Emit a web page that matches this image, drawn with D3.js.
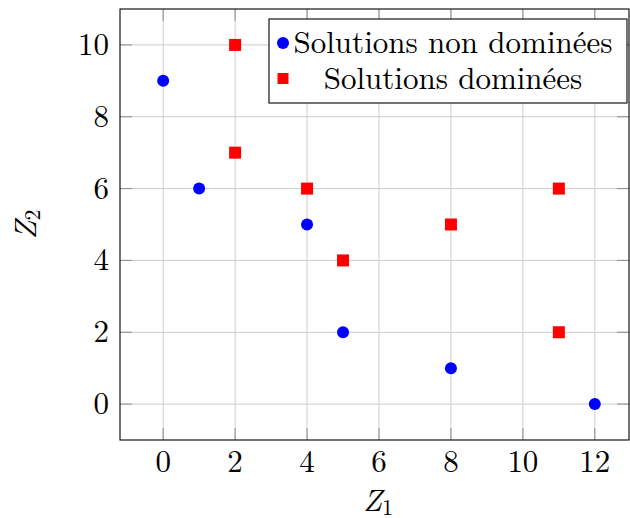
<!DOCTYPE html>
<html>
<head>
<meta charset="utf-8">
<script src="https://cdn.jsdelivr.net/npm/d3@7"></script>
<style>
  html, body { margin: 0; padding: 0; background: #fff; }
  svg { display: block; }
</style>
</head>
<body>
<svg id="chart" width="630" height="518"></svg>
<script>
// Points of the bi-objective problem (Z1, Z2)
const nonDominatedZ1 = [0, 1, 4, 5, 8, 12];
const nonDominatedZ2 = [9, 6, 5, 2, 1, 0];
const dominatedZ1 = [2, 2, 4, 5, 8, 11, 11];
const dominatedZ2 = [10, 7, 6, 4, 5, 6, 2];

const xTicks = [0, 2, 4, 6, 8, 10, 12];
const yTicks = [0, 2, 4, 6, 8, 10];
const legendLabels = ["Solutions non dominées", "Solutions dominées"];

const FONT = "'Latin Modern Roman', 'Liberation Serif', serif";
const svg = d3.select("#chart");
const box = { left: 120, right: 629, top: 9, bottom: 440 };

const x = d3.scaleLinear().domain([-1.2, 12.95]).range([box.left, box.right]);
const y = d3.scaleLinear().domain([-1, 11]).range([box.bottom, box.top]);

const gridColor = "#cccccc";
const tickColor = "#8c8c8c";
const tickLen = 12;

// grid lines
const grid = svg.append("g");
grid.selectAll("line.gx").data(xTicks).join("line")
  .attr("x1", d => x(d)).attr("x2", d => x(d))
  .attr("y1", box.top).attr("y2", box.bottom)
  .attr("stroke", gridColor).attr("stroke-width", 1);
grid.selectAll("line.gy").data(yTicks).join("line")
  .attr("x1", box.left).attr("x2", box.right)
  .attr("y1", d => y(d)).attr("y2", d => y(d))
  .attr("stroke", gridColor).attr("stroke-width", 1);

// inward ticks on all four sides
const ticks = svg.append("g").attr("stroke", tickColor).attr("stroke-width", 1);
xTicks.forEach(d => {
  ticks.append("line").attr("x1", x(d)).attr("x2", x(d)).attr("y1", box.bottom).attr("y2", box.bottom - tickLen);
  ticks.append("line").attr("x1", x(d)).attr("x2", x(d)).attr("y1", box.top).attr("y2", box.top + tickLen);
});
yTicks.forEach(d => {
  ticks.append("line").attr("x1", box.left).attr("x2", box.left + tickLen).attr("y1", y(d)).attr("y2", y(d));
  ticks.append("line").attr("x1", box.right).attr("x2", box.right - tickLen).attr("y1", y(d)).attr("y2", y(d));
});

// axis frame
svg.append("rect")
  .attr("x", box.left).attr("y", box.top)
  .attr("width", box.right - box.left).attr("height", box.bottom - box.top)
  .attr("fill", "none").attr("stroke", "#000").attr("stroke-width", 1.1);

// tick labels
const fs = 31;
svg.append("g").selectAll("text").data(xTicks).join("text")
  .attr("font-family", FONT)
  .attr("x", d => x(d)).attr("y", 472)
  .attr("text-anchor", "middle").attr("font-size", fs)
  .text(d => d);
svg.append("g").selectAll("text").data(yTicks).join("text")
  .attr("font-family", FONT)
  .attr("x", 109).attr("y", d => y(d) + 10)
  .attr("text-anchor", "end").attr("font-size", fs)
  .text(d => d);

// axis titles
const xt = svg.append("text").attr("font-family", FONT)
  .attr("x", 378).attr("y", 511)
  .attr("text-anchor", "middle").attr("font-size", fs);
xt.append("tspan").attr("font-style", "italic").text("Z");
xt.append("tspan").attr("font-size", 22).attr("dy", 4).text("1");

const yt = svg.append("text").attr("font-family", FONT)
  .attr("transform", `translate(36, ${(box.top + box.bottom) / 2}) rotate(-90)`)
  .attr("text-anchor", "middle").attr("font-size", fs);
yt.append("tspan").attr("font-style", "italic").text("Z");
yt.append("tspan").attr("font-size", 22).attr("dy", 4).text("2");

// data marks
const nd = nonDominatedZ1.map((v, i) => ({ z1: v, z2: nonDominatedZ2[i] }));
const dm = dominatedZ1.map((v, i) => ({ z1: v, z2: dominatedZ2[i] }));
const r = 6, sq = 12;

svg.append("g").selectAll("circle").data(nd).join("circle")
  .attr("cx", d => x(d.z1)).attr("cy", d => y(d.z2)).attr("r", r)
  .attr("fill", "#0000ff");
svg.append("g").selectAll("rect").data(dm).join("rect")
  .attr("x", d => x(d.z1) - sq / 2).attr("y", d => y(d.z2) - sq / 2)
  .attr("width", sq).attr("height", sq)
  .attr("fill", "#ff0000");

// legend
const lg = { x: 269, y: 19, w: 358, h: 84 };
const L = svg.append("g");
L.append("rect").attr("x", lg.x).attr("y", lg.y).attr("width", lg.w).attr("height", lg.h)
  .attr("fill", "#fff").attr("stroke", "#000").attr("stroke-width", 1.1);
const rowY = [lg.y + 24, lg.y + 60];
const markX = lg.x + 14;
const textCx = 453;
L.append("circle").attr("cx", markX).attr("cy", rowY[0]).attr("r", r).attr("fill", "#0000ff");
L.append("rect").attr("x", markX - sq / 2 + 0.5).attr("y", rowY[1] - sq / 2).attr("width", sq - 1).attr("height", sq - 1).attr("fill", "#ff0000");
legendLabels.forEach((t, i) => {
  L.append("text").attr("font-family", FONT)
    .attr("x", textCx).attr("y", rowY[i] + 10)
    .attr("text-anchor", "middle").attr("font-size", fs)
    .text(t);
});
</script>
</body>
</html>
